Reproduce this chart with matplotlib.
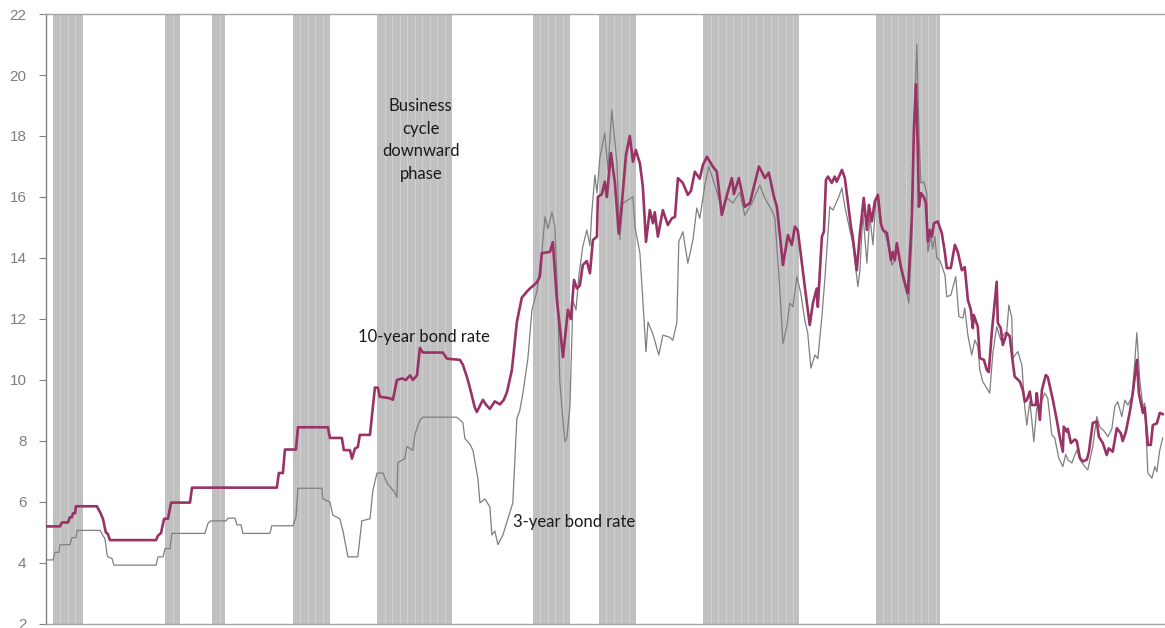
import matplotlib
matplotlib.use("Agg")
import matplotlib.pyplot as plt

# Business cycle downward phases (first month, last month)
downward_phases = [
    ("1960-04", "1961-07"), ("1965-04", "1965-11"), ("1967-05", "1967-11"),
    ("1970-12", "1972-07"), ("1974-09", "1977-12"), ("1981-08", "1983-03"),
    ("1984-07", "1986-02"), ("1989-03", "1993-05"), ("1996-11", "1999-08"),
]

# 10-year bond rate (%)
years_10y = [
    1960.0, 1960.56, 1960.65, 1960.92, 1961.0, 1961.09, 1961.14, 1961.23, 1961.27, 1962.2,
    1962.34, 1962.47, 1962.6, 1962.69, 1962.78, 1964.83, 1964.92, 1965.05, 1965.19, 1965.36,
    1965.5, 1966.34, 1966.43, 1970.2, 1970.29, 1970.47, 1970.56, 1971.05, 1971.14, 1972.47,
    1972.56, 1973.09, 1973.18, 1973.45, 1973.54, 1973.67, 1973.8, 1973.89, 1974.34, 1974.56,
    1974.69, 1974.78, 1975.23, 1975.36, 1975.54, 1975.76, 1975.94, 1976.12, 1976.25, 1976.43,
    1976.56, 1976.69, 1977.58, 1977.76, 1978.34, 1978.47, 1978.65, 1978.78, 1979.0, 1979.09,
    1979.36, 1979.49, 1979.67, 1979.89, 1980.12, 1980.29, 1980.43, 1980.65, 1980.87, 1981.09,
    1981.32, 1981.45, 1981.76, 1981.89, 1981.98, 1982.34, 1982.47, 1982.65, 1982.78, 1982.92,
    1983.14, 1983.27, 1983.41, 1983.54, 1983.67, 1983.8, 1983.98, 1984.12, 1984.25, 1984.43,
    1984.47, 1984.65, 1984.78, 1984.87, 1985.05, 1985.23, 1985.4, 1985.54, 1985.72, 1985.89,
    1986.03, 1986.16, 1986.34, 1986.47, 1986.61, 1986.78, 1986.92, 1987.0, 1987.14, 1987.36,
    1987.58, 1987.76, 1987.9, 1988.03, 1988.25, 1988.47, 1988.61, 1988.78, 1989.0, 1989.14,
    1989.32, 1989.58, 1989.76, 1989.98, 1990.25, 1990.43, 1990.52, 1990.74, 1991.0, 1991.23,
    1991.63, 1991.9, 1992.07, 1992.3, 1992.43, 1992.7, 1992.92, 1993.09, 1993.23, 1993.36,
    1993.67, 1993.89, 1994.03, 1994.2, 1994.25, 1994.43, 1994.52, 1994.61, 1994.7, 1994.87,
    1995.0, 1995.09, 1995.32, 1995.45, 1995.72, 1995.8, 1995.98, 1996.12, 1996.29, 1996.43,
    1996.52, 1996.65, 1996.78, 1996.92, 1997.05, 1997.14, 1997.32, 1997.5, 1997.58, 1997.67,
    1997.76, 1997.94, 1998.03, 1998.16, 1998.25, 1998.43, 1998.52, 1998.61, 1998.7, 1998.74,
    1998.83, 1998.96, 1999.05, 1999.14, 1999.23, 1999.32, 1999.41, 1999.58, 1999.76, 1999.9,
    1999.98, 2000.16, 2000.34, 2000.47, 2000.65, 2000.78, 2000.92, 2001.05, 2001.14, 2001.18,
    2001.36, 2001.45, 2001.63, 2001.76, 2001.85, 2001.98, 2002.2, 2002.25, 2002.38, 2002.47,
    2002.65, 2002.78, 2002.92, 2003.0, 2003.23, 2003.36, 2003.45, 2003.54, 2003.67, 2003.76,
    2003.94, 2003.98, 2004.12, 2004.21, 2004.38, 2004.47, 2004.7, 2004.87, 2005.0, 2005.14,
    2005.18, 2005.32, 2005.36, 2005.5, 2005.67, 2005.76, 2005.9, 2006.03, 2006.21, 2006.3,
    2006.47, 2006.65, 2006.74, 2006.92, 2007.09, 2007.18, 2007.36, 2007.54, 2007.72, 2007.8,
    2007.94, 2008.12, 2008.25, 2008.43, 2008.52, 2008.7, 2008.78, 2008.92, 2009.05, 2009.14,
    2009.32, 2009.45, 2009.58,
]
rate_10y = [
    5.2, 5.2, 5.33, 5.33, 5.5, 5.5, 5.63, 5.63, 5.86, 5.86,
    5.67, 5.45, 5.0, 4.95, 4.75, 4.75, 4.9, 4.98, 5.45, 5.45,
    5.98, 5.98, 6.47, 6.47, 6.95, 6.95, 7.72, 7.72, 8.45, 8.45,
    8.1, 8.1, 7.7, 7.7, 7.42, 7.75, 7.8, 8.2, 8.2, 9.75,
    9.75, 9.45, 9.4, 9.35, 10.0, 10.05, 10.0, 10.15, 10.0, 10.15,
    11.05, 10.9, 10.9, 10.7, 10.66, 10.5, 10.1, 9.75, 9.1, 8.95,
    9.35, 9.2, 9.05, 9.3, 9.2, 9.35, 9.6, 10.33, 11.9, 12.7,
    12.9, 13.0, 13.2, 13.38, 14.16, 14.2, 14.52, 12.62, 11.74, 10.75,
    12.3, 12.0, 13.28, 13.0, 13.1, 13.77, 13.9, 13.5, 14.59, 14.7,
    16.0, 16.1, 16.5, 16.0, 17.44, 16.46, 14.8, 15.8, 17.38, 18.0,
    17.16, 17.54, 17.1, 16.34, 14.53, 15.57, 15.14, 15.5, 14.7, 15.57,
    15.08, 15.3, 15.35, 16.62, 16.46, 16.07, 16.2, 16.83, 16.6, 17.05,
    17.32, 17.0, 16.83, 15.41, 16.18, 16.62, 16.1, 16.62, 15.68, 15.8,
    17.0, 16.62, 16.8, 16.0, 15.68, 13.77, 14.75, 14.43, 15.03, 14.9,
    13.06, 11.8, 12.52, 13.0, 12.4, 14.7, 14.87, 16.56, 16.67, 16.46,
    16.67, 16.5, 16.89, 16.62, 15.03, 14.7, 13.6, 14.8, 15.97, 14.92,
    15.74, 15.2, 15.85, 16.07, 15.14, 14.92, 14.82, 13.93, 14.2, 13.93,
    14.49, 13.72, 13.44, 13.06, 12.85, 15.35, 18.2, 19.7, 17.32, 15.68,
    16.13, 16.0, 15.8, 14.54, 14.92, 14.7, 15.14, 15.2, 14.82, 14.16,
    13.67, 13.67, 14.43, 14.2, 13.6, 13.7, 12.62, 12.3, 11.7, 12.13,
    11.75, 10.72, 10.66, 10.33, 10.26, 11.54, 13.22, 11.87, 11.7, 11.15,
    11.54, 11.44, 10.56, 10.11, 9.95, 9.67, 9.29, 9.34, 9.62, 9.18,
    9.18, 9.57, 8.69, 9.67, 10.16, 10.1, 9.34, 8.69, 8.14, 7.65,
    8.47, 8.3, 8.4, 7.93, 8.05, 8.0, 7.44, 7.33, 7.39, 7.65,
    8.59, 8.64, 8.14, 7.93, 7.54, 7.76, 7.65, 8.42, 8.25, 8.0,
    8.3, 8.96, 9.57, 10.66, 9.57, 8.92, 9.1, 7.87, 7.87, 8.52,
    8.58, 8.92, 8.88,
]

# 3-year bond rate (%)
years_3y = [
    1960.0, 1960.25, 1960.34, 1960.52, 1960.56, 1961.0, 1961.09, 1961.27, 1961.32, 1962.34,
    1962.47, 1962.56, 1962.65, 1962.69, 1962.87, 1962.96, 1964.83, 1964.92, 1965.14, 1965.23,
    1965.45, 1965.54, 1967.0, 1967.14, 1967.27, 1967.94, 1968.03, 1968.34, 1968.43, 1968.61,
    1968.69, 1969.89, 1969.98, 1970.92, 1971.05, 1971.14, 1972.2, 1972.25, 1972.56, 1972.69,
    1973.0, 1973.14, 1973.36, 1973.8, 1973.98, 1974.34, 1974.47, 1974.65, 1974.92, 1975.09,
    1975.45, 1975.54, 1975.58, 1975.89, 1975.98, 1976.25, 1976.34, 1976.56, 1976.69, 1978.2,
    1978.47, 1978.56, 1978.78, 1978.92, 1979.14, 1979.23, 1979.45, 1979.67, 1979.76, 1979.89,
    1980.03, 1980.25, 1980.69, 1980.87, 1981.0, 1981.14, 1981.36, 1981.54, 1981.76, 1981.98,
    1982.12, 1982.25, 1982.43, 1982.56, 1982.69, 1982.78, 1983.0, 1983.09, 1983.23, 1983.36,
    1983.5, 1983.63, 1983.8, 1983.98, 1984.12, 1984.2, 1984.34, 1984.43, 1984.56, 1984.78,
    1984.92, 1985.09, 1985.32, 1985.45, 1985.58, 1985.8, 1986.03, 1986.12, 1986.34, 1986.61,
    1986.7, 1986.92, 1987.18, 1987.36, 1987.67, 1987.8, 1987.98, 1988.07, 1988.25, 1988.47,
    1988.7, 1988.87, 1989.0, 1989.23, 1989.4, 1989.58, 1989.8, 1989.98, 1990.2, 1990.47,
    1990.78, 1991.0, 1991.32, 1991.67, 1991.9, 1992.2, 1992.34, 1992.52, 1992.7, 1992.87,
    1993.0, 1993.14, 1993.32, 1993.49, 1993.67, 1993.8, 1993.94, 1994.12, 1994.25, 1994.43,
    1994.56, 1994.78, 1994.92, 1995.18, 1995.32, 1995.45, 1995.67, 1995.8, 1996.03, 1996.12,
    1996.25, 1996.43, 1996.56, 1996.7, 1996.83, 1996.92, 1997.1, 1997.23, 1997.36, 1997.54,
    1997.67, 1997.76, 1997.98, 1998.2, 1998.29, 1998.43, 1998.52, 1998.65, 1998.74, 1998.83,
    1998.96, 1999.09, 1999.14, 1999.27, 1999.36, 1999.45, 1999.54, 1999.67, 1999.9, 1999.98,
    2000.16, 2000.38, 2000.52, 2000.7, 2000.78, 2000.92, 2001.09, 2001.23, 2001.36, 2001.45,
    2001.58, 2001.76, 2001.89, 2002.03, 2002.2, 2002.38, 2002.52, 2002.65, 2002.74, 2002.87,
    2002.92, 2003.14, 2003.32, 2003.45, 2003.54, 2003.67, 2003.76, 2003.85, 2003.98, 2004.12,
    2004.34, 2004.47, 2004.65, 2004.78, 2004.96, 2005.14, 2005.27, 2005.36, 2005.54, 2005.76,
    2005.9, 2006.12, 2006.25, 2006.47, 2006.65, 2006.78, 2007.0, 2007.14, 2007.32, 2007.45,
    2007.58, 2007.76, 2007.9, 2008.03, 2008.21, 2008.3, 2008.43, 2008.56, 2008.7, 2008.78,
    2008.92, 2009.1, 2009.23, 2009.32, 2009.45, 2009.58,
]
rate_3y = [
    4.1, 4.1, 4.35, 4.35, 4.6, 4.6, 4.83, 4.83, 5.07, 5.07,
    4.9, 4.8, 4.3, 4.2, 4.15, 3.93, 3.93, 4.2, 4.2, 4.47,
    4.47, 4.97, 4.97, 5.3, 5.38, 5.38, 5.47, 5.47, 5.25, 5.25,
    4.97, 4.97, 5.22, 5.22, 5.5, 6.45, 6.45, 6.1, 6.0, 5.57,
    5.45, 5.05, 4.2, 4.2, 5.38, 5.45, 6.37, 6.95, 6.95, 6.63,
    6.3, 6.15, 7.29, 7.42, 7.82, 7.69, 8.22, 8.68, 8.78, 8.78,
    8.6, 8.08, 7.9, 7.69, 6.76, 5.97, 6.1, 5.84, 4.92, 5.05,
    4.6, 4.92, 5.97, 8.74, 9.0, 9.57, 10.7, 12.3, 12.9, 14.16,
    15.35, 14.96, 15.5, 15.03, 12.6, 9.95, 7.98, 8.1, 9.13, 12.6,
    12.3, 13.44, 14.37, 14.92, 14.4, 15.47, 16.72, 16.13, 17.28, 18.1,
    16.9, 18.85, 17.1, 14.6, 15.8, 15.9, 16.0, 15.03, 14.16, 10.93,
    11.9, 11.5, 10.82, 11.47, 11.4, 11.3, 11.87, 14.54, 14.86, 13.83,
    14.6, 15.64, 15.3, 16.39, 17.0, 16.6, 16.07, 15.6, 15.97, 15.8,
    16.15, 15.4, 15.8, 16.39, 15.95, 15.57, 15.3, 13.39, 11.2, 11.75,
    12.52, 12.4, 13.39, 12.85, 11.97, 11.54, 10.39, 10.82, 10.7, 12.08,
    13.28, 15.68, 15.57, 16.0, 16.3, 15.68, 14.92, 14.49, 13.06, 13.6,
    15.47, 13.83, 15.36, 14.43, 15.9, 16.0, 15.0, 14.8, 14.5, 13.77,
    13.93, 14.4, 13.5, 12.85, 12.52, 14.6, 18.2, 21.02, 18.2, 16.46,
    16.5, 16.13, 14.2, 14.7, 14.3, 14.7, 14.0, 13.93, 13.44, 12.73,
    12.78, 13.39, 12.08, 12.03, 12.36, 11.47, 10.82, 11.31, 11.1, 10.33,
    9.95, 9.73, 9.57, 10.89, 11.75, 11.31, 11.5, 11.6, 12.46, 12.05,
    10.72, 10.93, 10.49, 9.08, 8.52, 9.29, 8.69, 7.98, 9.08, 9.18,
    9.57, 9.4, 8.2, 8.1, 7.44, 7.16, 7.56, 7.39, 7.28, 7.7,
    7.39, 7.16, 7.05, 7.81, 8.8, 8.47, 8.3, 8.14, 8.4, 9.13,
    9.29, 8.8, 9.34, 9.18, 9.45, 10.22, 11.55, 10.0, 9.13, 9.24,
    6.95, 6.78, 7.16, 7.0, 7.7, 8.1,
]

y_ticks = list(range(2, 23, 2))


def month_value(s):
    y, m = s.split("-")
    return int(y) + (int(m) - 1) / 12


fig = plt.figure(figsize=(11.65, 6.28), dpi=100)
ax = fig.add_axes([0.0395, 0.0064, 0.9595, 0.9713])

# shaded downward phases, one bar per month
band_x = []
seams = []
for first, last in downward_phases:
    m = month_value(first)
    end = month_value(last)
    k = 0
    while m <= end + 1e-6:
        band_x.append(m)
        if k % 4 == 3 and m + 1 / 12 < end:
            seams.append(m + 1 / 12)
        m += 1 / 12
        k += 1
ax.bar(band_x, [20] * len(band_x), bottom=2, width=1 / 12, align='edge',
       color='#c0c0c0', linewidth=0, zorder=1)
# faint light seams between some monthly bars, as in the original
for s in seams:
    ax.axvline(s, color='#d4d4d4', linewidth=0.6, zorder=2)

ax.plot(years_3y, rate_3y, color='#7f7f7f', linewidth=0.9, zorder=3)
ax.plot(years_10y, rate_10y, color='#993366', linewidth=1.9, zorder=4,
        solid_joinstyle='round')

txt = dict(fontsize=12, color='#1a1a1a', family=['Lato', 'DejaVu Sans'])
ax.text(1976.6, 17.87, 'Business\ncycle\ndownward\nphase', ha='center', va='center',
        linespacing=1.49, **txt)
ax.text(1973.8, 11.41, '10-year bond rate', ha='left', va='center', **txt)
ax.text(1980.7, 5.34, '3-year bond rate', ha='left', va='center', **txt)

ax.set_xlim(1959.94, 2009.63)
ax.set_ylim(2, 22)
ax.set_yticks(y_ticks)
ax.set_xticks([])
ax.tick_params(axis='y', direction='out', length=5, width=0.8, color='#808080',
               labelcolor='#7f7f7f', labelsize=11, pad=9)
for lab in ax.get_yticklabels():
    lab.set_family(['Liberation Sans', 'DejaVu Sans'])

ax.spines['right'].set_visible(False)
ax.spines['left'].set_color('#808080')
ax.spines['top'].set_color('#a6a6a6')
ax.spines['bottom'].set_color('#a6a6a6')
for s in ['left', 'top', 'bottom']:
    ax.spines[s].set_linewidth(1.0)

fig.savefig('out.png', dpi=100)
